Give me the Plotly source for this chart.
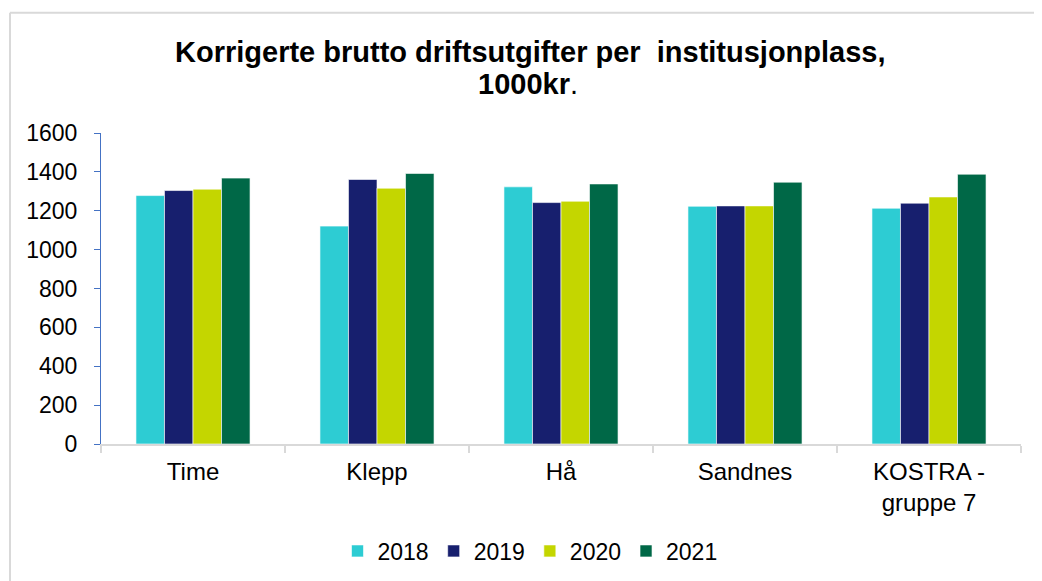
import plotly.graph_objects as go

categories = ["Time", "Klepp", "Hå", "Sandnes", "KOSTRA -<br>gruppe 7"]
years = ["2018", "2019", "2020", "2021"]
v2018 = [1278, 1121, 1323, 1223, 1213]
v2019 = [1304, 1361, 1242, 1225, 1239]
v2020 = [1311, 1316, 1249, 1225, 1271]
v2021 = [1368, 1392, 1338, 1347, 1388]
series = [v2018, v2019, v2020, v2021]
colors = ["#2DCCD3", "#171F6E", "#C4D600", "#006847"]
title_line1 = "<b>Korrigerte brutto driftsutgifter per &nbsp;institusjonplass,</b>"
title_line2 = "<b>1000kr</b>."

W, H = 1042, 581
OFF = 8  # page body margin offset
L, R, T, B = 101 - OFF, 1042 - (1021 - OFF), 133 - OFF, 581 - (444 - OFF)
pw, ph = W - L - R, H - T - B

def px(x):
    return (x - OFF - L) / pw

def py(y):
    return (H - B - (y - OFF)) / ph

fig = go.Figure()
for name, vals, col in zip(years, series, colors):
    fig.add_trace(go.Bar(
        x=categories, y=vals, name=name,
        marker=dict(color=col, line=dict(color="rgba(255,255,255,0.6)", width=1)),
    ))

font_family = "Liberation Sans, Arial, sans-serif"
fig.update_layout(
    width=W, height=H,
    margin=dict(l=L, r=R, t=T, b=B, pad=0, autoexpand=False),
    paper_bgcolor="white", plot_bgcolor="white",
    barmode="group", bargap=0.38, bargroupgap=0,
    font=dict(family=font_family, size=23, color="#000000"),
    xaxis=dict(
        showline=True, linecolor="#D9D9D9", linewidth=2,
        ticks="outside", tickson="boundaries", ticklen=7, tickcolor="#D9D9D9", tickwidth=2,
        showgrid=False, tickfont=dict(size=24), tickangle=0, ticklabelstandoff=5,
    ),
    yaxis=dict(
        range=[0, 1600], dtick=200, showgrid=False, zeroline=False,
        showline=True, linecolor="#4472C4", linewidth=1,
        ticks="outside", ticklen=6, tickcolor="#4472C4",
        tickfont=dict(size=23), ticklabelstandoff=12,
    ),
    legend=dict(
        orientation="h", x=px(530), xanchor="center",
        y=py(551), yanchor="middle", font=dict(size=23),
        itemwidth=30, traceorder="normal",
    ),
    showlegend=True,
    annotations=[
        dict(text=title_line1, xref="paper", yref="paper", x=px(530), y=py(52),
             xanchor="center", yanchor="middle", showarrow=False,
             font=dict(family=font_family, size=29, color="#000000")),
        dict(text=title_line2, xref="paper", yref="paper", x=px(528), y=py(84),
             xanchor="center", yanchor="middle", showarrow=False,
             font=dict(family=font_family, size=29, color="#000000")),
    ],
    shapes=[
        dict(type="line", xref="paper", yref="paper", x0=px(10), x1=px(10), y0=py(600), y1=py(12.7),
             line=dict(color="#D9D9D9", width=2)),
        dict(type="line", xref="paper", yref="paper", x0=px(10), x1=px(1060), y0=py(12.7), y1=py(12.7),
             line=dict(color="#D9D9D9", width=2)),
    ],
)

fig.write_html("out.html")
